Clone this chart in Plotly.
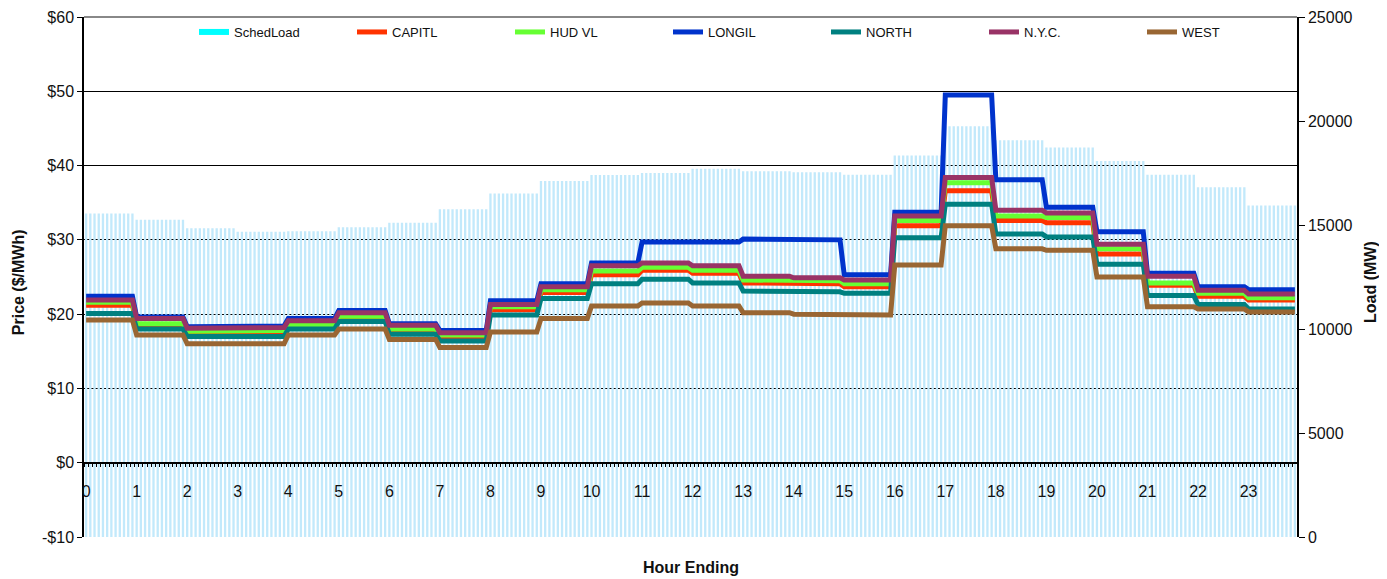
import numpy as np
import plotly.graph_objects as go

hours = list(range(24))
hour_labels = [str(h) for h in hours]
steps_per_hour = 12

sched_load = [15550, 15250, 14840, 14680, 14700, 14890, 15110, 15760,
              16510, 17110, 17400, 17500, 17700, 17590, 17540, 17410,
              18340, 19750, 19080, 18720, 18080, 17410, 16810, 15940]

capitl = [21.2, 18.5, 17.5, 17.6, 18.4, 19.5, 17.8, 17.0, 20.6, 22.9, 25.3, 25.9,
          25.5, 24.2, 24.1, 23.7, 31.9, 36.6, 32.6, 32.3, 28.1, 23.9, 22.4, 21.9]
hud_vl = [21.6, 18.7, 17.7, 17.8, 18.6, 19.7, 18.0, 17.2, 21.0, 23.3, 25.8, 26.3,
          25.9, 24.6, 24.5, 24.1, 32.6, 37.7, 33.2, 33.0, 28.8, 24.2, 22.8, 22.2]
longil = [22.4, 19.6, 18.3, 18.4, 19.4, 20.5, 18.7, 17.8, 21.8, 24.1, 26.9, 29.7,
          29.7, 30.1, 30.0, 25.3, 33.7, 49.5, 38.1, 34.4, 31.1, 25.5, 23.7, 23.3]
north = [20.1, 18.0, 17.0, 17.0, 18.0, 19.0, 17.3, 16.4, 19.9, 22.1, 24.1, 24.7,
         24.2, 23.1, 23.0, 22.8, 30.3, 34.8, 30.8, 30.4, 26.7, 22.5, 21.3, 20.7]
nyc = [21.9, 19.4, 18.1, 18.2, 19.1, 20.2, 18.5, 17.5, 21.3, 23.7, 26.5, 26.9,
       26.5, 25.1, 24.9, 24.6, 33.2, 38.4, 34.0, 33.6, 29.4, 25.1, 23.2, 22.7]
west = [19.2, 17.2, 16.0, 16.0, 17.2, 18.0, 16.6, 15.5, 17.6, 19.4, 21.1, 21.5,
        21.1, 20.2, 20.0, 19.9, 26.6, 31.9, 28.8, 28.6, 25.0, 21.0, 20.7, 20.3]

price_ticks = [-10, 0, 10, 20, 30, 40, 50, 60]
price_tick_text = ["-$10", "$0", "$10", "$20", "$30", "$40", "$50", "$60"]
load_ticks = [0, 5000, 10000, 15000, 20000, 25000]

series = [
    ("CAPITL", capitl, "#FF3300"),
    ("HUD VL", hud_vl, "#66FF33"),
    ("LONGIL", longil, "#0033CC"),
    ("NORTH", north, "#008080"),
    ("N.Y.C.", nyc, "#993366"),
    ("WEST", west, "#996633"),
]

n = len(hours) * steps_per_hour
x = np.arange(n)

font_family = "Liberation Sans, Arial, sans-serif"
fig = go.Figure()

# legend entry for the load bars
fig.add_trace(go.Scatter(x=[None], y=[None], mode="lines", name="SchedLoad",
                         line=dict(color="#00FFFF", width=6), yaxis="y2",
                         showlegend=True))

fig.add_trace(go.Bar(x=x, y=np.repeat(sched_load, steps_per_hour), name="SchedLoad",
                     marker=dict(color="#C2E9FB", line=dict(width=0)),
                     showlegend=False, yaxis="y"))

for name, vals, color in series:
    fig.add_trace(go.Scatter(x=x, y=np.repeat(vals, steps_per_hour), name=name,
                             mode="lines", line=dict(color=color, width=5),
                             yaxis="y2"))

fig.update_layout(
    width=1379, height=571,
    margin=dict(l=76, r=90, t=9, b=42, autoexpand=False),
    paper_bgcolor="white", plot_bgcolor="white",
    font=dict(family=font_family, size=16, color="#111111"),
    bargap=0.45,
    showlegend=True,
    legend=dict(orientation="h", x=0.0907, y=1.0, xanchor="left", yanchor="top",
                font=dict(size=13), entrywidth=113, entrywidthmode="pixels",
                bgcolor="rgba(0,0,0,0)", traceorder="normal"),
    xaxis=dict(range=[-0.5, n - 0.5], anchor="free", automargin=False,
               position=(0 - price_ticks[0]) / (price_ticks[-1] - price_ticks[0]),
               tickmode="array", tickvals=[h * steps_per_hour for h in hours],
               ticktext=hour_labels, ticks="", ticklabelstandoff=14,
               showline=True, linecolor="black", linewidth=1.5,
               showgrid=False, zeroline=False,
               minor=dict(tickmode="array", tickvals=list(np.arange(n + 1) - 0.5),
                          ticks="outside", ticklen=4, tickcolor="black", showgrid=False)),
    yaxis=dict(range=[0, 25000], side="right", tickmode="array", tickvals=load_ticks,
               tickformat="d", ticks="outside", ticklen=6, tickcolor="black",
               showline=True, linecolor="black", linewidth=1.5, automargin=False,
               ticklabeloverflow="allow",
               showgrid=False, zeroline=False),
    yaxis2=dict(range=[price_ticks[0], price_ticks[-1]], overlaying="y", side="left",
                tickmode="array", tickvals=price_ticks, ticktext=price_tick_text,
                ticks="outside", ticklen=5, tickcolor="black", automargin=False,
                ticklabeloverflow="allow",
                showline=True, linecolor="black", linewidth=1.5,
                showgrid=True, gridcolor="#000000", gridwidth=1, zeroline=False),
    annotations=[
        dict(text="<b>Hour Ending</b>", x=0.5, y=-0.059, xref="paper", yref="paper",
             showarrow=False, font=dict(size=16), xanchor="center", yanchor="middle"),
        dict(text="<b>Price ($/MWh)</b>", x=-0.0544, y=0.49, xref="paper", yref="paper",
             showarrow=False, font=dict(size=16), textangle=-90,
             xanchor="center", yanchor="middle"),
        dict(text="<b>Load (MW)</b>", x=1.060, y=0.49, xref="paper", yref="paper",
             showarrow=False, font=dict(size=16), textangle=-90,
             xanchor="center", yanchor="middle"),
    ],
    shapes=[dict(type="line", xref="paper", yref="paper", x0=0, x1=1, y0=1, y1=1,
                 line=dict(color="#888888", width=2))],
)

fig.write_html("out.html")
